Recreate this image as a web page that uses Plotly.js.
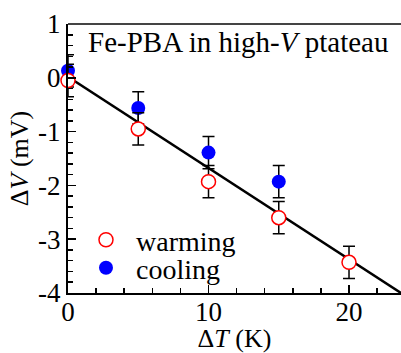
<!DOCTYPE html>
<html>
<head>
<meta charset="utf-8">
<script src="https://cdn.plot.ly/plotly-3.0.1.min.js"></script>
<style>html,body{margin:0;padding:0;background:#fff;}#chart{width:401px;height:353px;}</style>
</head>
<body>
<div id="chart"></div>
<script>
// Data
const tempSteps = [0, 5, 10, 15, 20];
const warmingDV = [-0.05, -0.95, -1.93, -2.6, -3.43];
const warmingErr = [0.3, 0.3, 0.3, 0.3, 0.3];
const coolingSteps = [0, 5, 10, 15];
const coolingDV = [0.13, -0.56, -1.39, -1.93];
const coolingErr = [0.3, 0.3, 0.3, 0.3];
const fitX = [0, 23.7];
const fitY = [0.02, -4.0];
const xTickVals = [0, 10, 20];
const xTickText = ['0', '10', '20'];
const yTickVals = [-4, -3, -2, -1, 0, 1];
const yTickText = ['-4', '-3', '-2', '-1', '0', '1'];

const FONT = '"Liberation Serif", "Times New Roman", serif';

const traces = [
  {
    x: fitX, y: fitY, mode: 'lines', showlegend: false, hoverinfo: 'skip',
    line: {color: '#000', width: 2.5}
  },
  {
    x: coolingSteps, y: coolingDV, mode: 'markers', name: 'cooling', legend: 'legend2', cliponaxis: false,
    marker: {symbol: 'circle', size: 14, color: '#0000ff', line: {width: 0}},
    error_y: {type: 'data', array: coolingErr, visible: true, color: '#000', thickness: 1.5, width: 6}
  },
  {
    x: tempSteps, y: warmingDV, mode: 'markers', name: 'warming', legend: 'legend', cliponaxis: false,
    marker: {symbol: 'circle', size: 14, color: '#fff', line: {color: '#ff0000', width: 1.5}},
    error_y: {type: 'data', array: warmingErr, visible: true, color: '#000', thickness: 1.5, width: 6}
  }
];

const legendBase = {xanchor: 'left', yanchor: 'middle', bgcolor: 'rgba(0,0,0,0)', borderwidth: 0,
  font: {family: FONT, size: 28, color: '#000'}, itemsizing: 'trace', itemwidth: 50};

const layout = {
  width: 401, height: 353,
  margin: {l: 68, r: 0, t: 24, b: 60},
  paper_bgcolor: '#fff', plot_bgcolor: '#fff',
  font: {family: FONT, size: 26, color: '#000'},
  showlegend: true,
  legend: Object.assign({x: 0.024, y: 0.197}, legendBase),
  legend2: Object.assign({x: 0.024, y: 0.093}, legendBase),
  xaxis: {
    range: [0, 23.7], tickmode: 'array', tickvals: xTickVals, ticktext: xTickText,
    ticks: 'inside', ticklen: 8, tickwidth: 1.5, tickcolor: '#000', ticklabelstandoff: -6,
    showline: true, linecolor: '#000', linewidth: 2, showgrid: false, zeroline: false,
    tickfont: {family: FONT, size: 27},
    minor: {dtick: 2, tick0: 0, ticks: 'inside', ticklen: 5, tickwidth: 1.5, tickcolor: '#000', showgrid: false},
    title: {text: 'Δ<i>T</i> (K)', font: {family: FONT, size: 26}, standoff: 2}
  },
  yaxis: {
    range: [-4, 1], tickmode: 'array', tickvals: yTickVals, ticktext: yTickText,
    ticks: 'inside', ticklen: 8, tickwidth: 1.5, tickcolor: '#000',
    showline: true, linecolor: '#000', linewidth: 2, showgrid: false, zeroline: false,
    tickfont: {family: FONT, size: 27},
    minor: {dtick: 0.2, tick0: 0, ticks: 'inside', ticklen: 5, tickwidth: 1.5, tickcolor: '#000', showgrid: false},
    title: {text: 'Δ<i>V</i> (mV)', font: {family: FONT, size: 26}, standoff: 2}
  },
  shapes: [
    {type: 'line', xref: 'paper', yref: 'paper', x0: 0, x1: 1, y0: 1, y1: 1, line: {color: '#444', width: 2}}
  ],
  annotations: [
    {xref: 'paper', yref: 'paper', x: 0.055, y: 1.0, xanchor: 'left', yanchor: 'top', showarrow: false,
     text: 'Fe-PBA in high-<i>V</i> ptateau', font: {family: FONT, size: 29, color: '#000'}}
  ]
};

Plotly.newPlot('chart', traces, layout, {displayModeBar: false, staticPlot: true});
</script>
</body>
</html>
